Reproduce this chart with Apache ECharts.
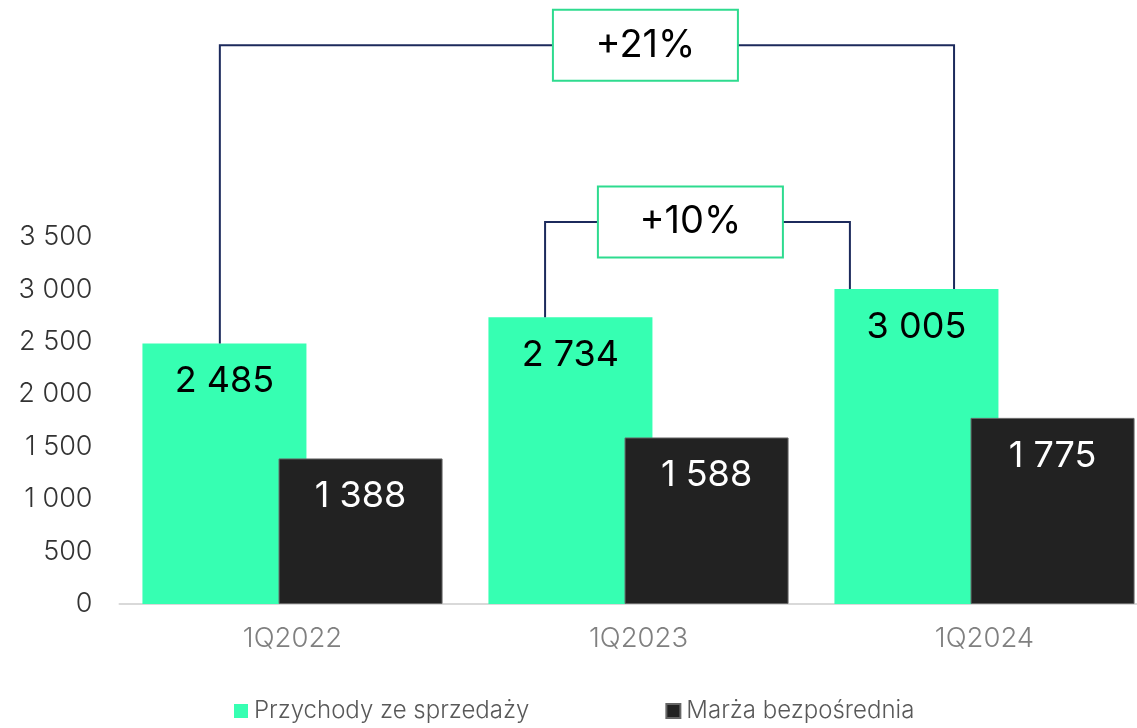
<!DOCTYPE html>
<html><head><meta charset="utf-8">
<script src="https://cdn.jsdelivr.net/npm/echarts@6/dist/echarts.min.js"></script>
<style>html,body{margin:0;padding:0;background:#fff}#c{width:1137px;height:728px}</style>
</head><body><div id="c"></div><script>
// ---- data ----
const categories = ['1Q2022', '1Q2023', '1Q2024'];
const revenue = [2485, 2734, 3005];
const margin = [1388, 1588, 1775];
const seriesNames = ['Przychody ze sprzedaży', 'Marża bezpośrednia'];
const yTickMax = 3500;
const changeLabels = ['+21%', '+10%'];
const changeFrom = [0, 1];
const changeTo = [2, 2];

// ---- annotation layout (x in category units, level in value units) ----
const bracketLayout = [
  { xl: -0.21, xr: 1.912, level: 5330, box: 1.02 },
  { xl: 0.73, xr: 1.611, level: 3643, box: 1.15 }
];

const FONT = 'Inter, "Noto Sans", sans-serif';
const fmt = v => String(v).replace(/\B(?=(\d{3})+(?!\d))/g, ' ');

const chart = echarts.init(document.getElementById('c'), null, { renderer: 'canvas' });

const option = {
  backgroundColor: '#fff',
  animation: false,
  textStyle: { fontFamily: FONT },
  grid: { left: 119.5, right: -20.5, top: 27.3, bottom: 124, containLabel: false, outerBoundsMode: 'none' },
  legend: {
    bottom: 0, left: 229, icon: 'rect', itemWidth: 14, itemHeight: 14, itemGap: 136,
    textStyle: { fontFamily: FONT, fontSize: 24, fontWeight: 300, color: '#595959', padding: [0, 0, 0, 1] },
    data: seriesNames
  },
  xAxis: [{
    type: 'category', data: categories,
    axisLine: { lineStyle: { color: '#d9d9d9', width: 2 } },
    axisTick: { show: false },
    axisLabel: { fontFamily: FONT, fontSize: 27.5, fontWeight: 300, color: '#808080', margin: 21 }
  }, {
    type: 'value', min: -0.5, max: 2.5, show: false
  }],
  yAxis: {
    type: 'value', min: 0, max: 5500, interval: 500,
    splitLine: { show: false }, axisLine: { show: false }, axisTick: { show: false },
    axisLabel: {
      fontFamily: FONT, fontSize: 27, fontWeight: 300, color: '#333333', margin: 27,
      formatter: v => v <= yTickMax ? fmt(v) : ''
    }
  },
  series: [{
    name: seriesNames[0], type: 'bar', data: revenue, barWidth: 164, barGap: '-17%',
    itemStyle: { color: '#36ffb2' },
    label: { show: true, position: 'insideTop', distance: 20, formatter: p => fmt(p.value),
      fontFamily: FONT, fontSize: 36, color: '#000' }
  }, {
    name: seriesNames[1], type: 'bar', data: margin, barWidth: 164,
    itemStyle: { color: '#222222', borderColor: '#666', borderWidth: 1 },
    label: { show: true, position: 'insideTop', distance: 20, formatter: p => fmt(p.value),
      fontFamily: FONT, fontSize: 36, color: '#fff' }
  }, {
    type: 'custom', xAxisIndex: 1, yAxisIndex: 0, clip: false, silent: true, z: 10,
    data: bracketLayout.map((b, i) => [b.box, b.level, i]),
    renderItem: function (params, api) {
      const i = api.value(2);
      const b = bracketLayout[i];
      const pL = api.coord([b.xl, revenue[changeFrom[i]]]);
      const pLt = api.coord([b.xl, b.level]);
      const pR = api.coord([b.xr, revenue[changeTo[i]]]);
      const pRt = api.coord([b.xr, b.level]);
      const pB = api.coord([b.box, b.level]);
      const bw = 185, bh = 71;
      const lineStyle = { stroke: '#1c2a5c', lineWidth: 2, fill: null };
      return {
        type: 'group',
        children: [
          { type: 'polyline', shape: { points: [pL, pLt, [pB[0] - bw / 2, pLt[1]]] }, style: lineStyle },
          { type: 'polyline', shape: { points: [[pB[0] + bw / 2, pRt[1]], pRt, pR] }, style: lineStyle },
          {
            type: 'rect',
            shape: { x: pB[0] - bw / 2, y: pB[1] - bh / 2, width: bw, height: bh },
            style: { fill: '#fff', stroke: '#2edb8f', lineWidth: 2 },
            textContent: { style: { text: changeLabels[i], fontFamily: FONT, fontSize: 38, fill: '#000' } },
            textConfig: { position: 'inside' }
          }
        ]
      };
    }
  }]
};
chart.setOption(option);
</script></body></html>
